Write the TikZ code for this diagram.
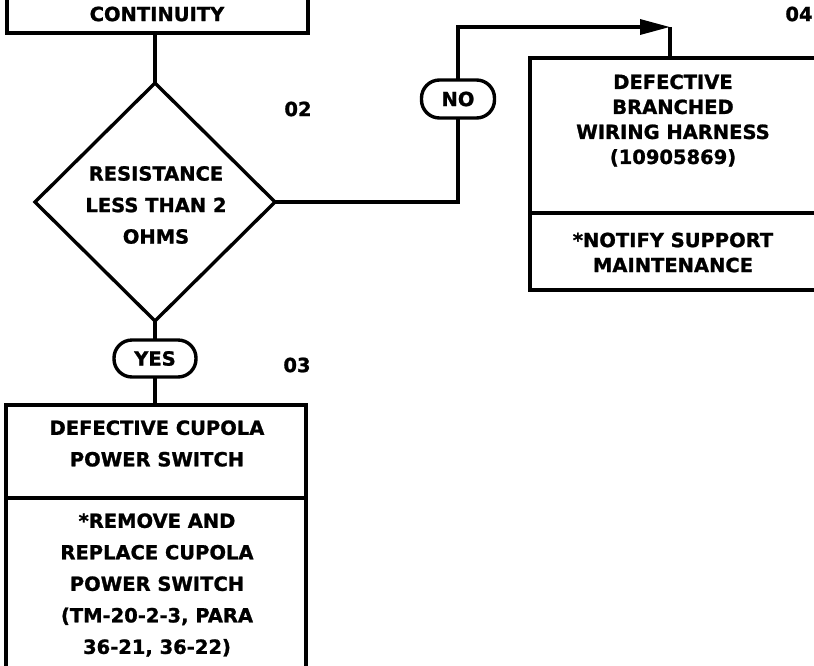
\documentclass[tikz,border=0pt]{standalone}
\usepackage{fontspec}
\setmainfont{DejaVu Sans}[BoldFeatures={FakeBold=1.2}]
\usetikzlibrary{shapes.geometric,arrows.meta}
\begin{document}
\begin{tikzpicture}[x=1pt,y=-1pt, line width=3.4pt,
 box/.style={draw, rectangle, inner sep=0pt, outer sep=0pt},
 oval/.style={draw, rectangle, rounded corners=18pt, inner sep=0pt, outer sep=0pt, minimum height=38pt},
 lbl/.style={font=\bfseries\fontsize{19.5}{25}\selectfont, align=center, inner sep=0pt},
 lbltall/.style={font=\bfseries\fontsize{19.5}{31.5}\selectfont, align=center, inner sep=0pt},
 num/.style={font=\bfseries\fontsize{19.5}{22}\selectfont, inner sep=0pt}]
\useasboundingbox (0,0) rectangle (814,665);
% boxes
\node[box, minimum width=301pt, minimum height=53pt] (top) at (157.5,6.5) {};
\node[draw, diamond, inner sep=0pt, outer sep=0pt, minimum width=240pt, minimum height=238pt] (dia) at (155,202) {};
\node[oval, minimum width=73pt] (no) at (458,99) {};
\node[box, minimum width=310pt, minimum height=155pt] (rup) at (685,135.5) {};
\node[box, minimum width=310pt, minimum height=77pt] (rlow) at (685,251.5) {};
\node[oval, minimum width=82pt, minimum height=37pt] (yes) at (155,358.5) {};
\node[box, minimum width=300pt, minimum height=93pt] (bup) at (156,451.5) {};
\node[box, minimum width=300pt, minimum height=202pt] (blow) at (156,599) {};
% texts
\node[lbl] (ttop) at (157,14) {CONTINUITY};
\node[lbltall] (tdia) at (156,205) {RESISTANCE\\LESS THAN 2\\OHMS};
\node[lbl] (tno) at (458,99) {NO};
\node[lbl] (tyes) at (155,358.5) {YES};
\node[num] (n02) at (298,109) {02};
\node[num] (n03) at (297,365) {03};
\node[num] (n04) at (799,14) {04};
\node[lbl] (trup) at (673,120.5) {DEFECTIVE\\BRANCHED\\WIRING HARNESS\\(10905869)};
\node[lbl] (trlow) at (673,252.5) {*NOTIFY SUPPORT\\MAINTENANCE};
\node[lbltall] (tbup) at (157,443.5) {DEFECTIVE CUPOLA\\POWER SWITCH};
\node[lbltall] (tblow) at (157,585) {*REMOVE AND\\REPLACE CUPOLA\\POWER SWITCH\\(TM-20-2-3, PARA\\36-21, 36-22)};
% connectors
\coordinate (corner) at (670,27);
\draw (top.south -| dia.north) -- (dia.north);
\draw (dia.south) -- (yes.north);
\draw (yes.south) -- (yes.south |- bup.north);
\draw (dia.east) -| (no.south);
\draw[-{Triangle[length=30pt,width=15pt]}] (no.north) |- (corner);
\draw (corner) -- (corner |- rup.north);
\end{tikzpicture}
\end{document}
